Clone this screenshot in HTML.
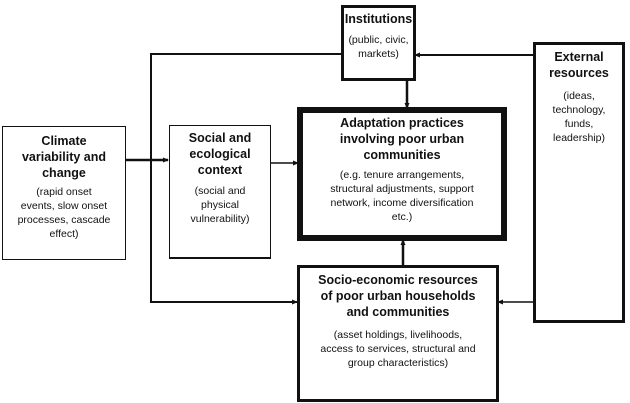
<!DOCTYPE html>
<html><head><style>
body{margin:0;width:630px;height:403px;background:#fff;overflow:hidden;position:relative;font-family:"Liberation Sans","DejaVu Sans",sans-serif;color:#111}
.b{position:absolute;box-sizing:border-box;border:1.5px solid #111;text-align:center;background:#fff}
.t{font-weight:bold;font-size:12.5px;line-height:16px}
.s{font-size:10.5px;line-height:14px;margin-top:6px}
</style></head><body>
<svg width="630" height="403" style="position:absolute;left:0;top:0">
<defs><marker id="a" markerUnits="userSpaceOnUse" markerWidth="6" markerHeight="6" refX="5" refY="3" orient="auto"><path d="M0,0.5L6,3L0,5.5z" fill="#111"/></marker></defs>
<g stroke="#111" stroke-width="2" fill="none">
<polyline points="342,54 151,54 151,302 297,302" marker-end="url(#a)"/>
<line x1="125" y1="160" x2="168" y2="160" stroke-width="2.5" marker-end="url(#a)"/>
<line x1="270" y1="163" x2="298" y2="163" stroke-width="1.5" marker-end="url(#a)"/>
<line x1="407" y1="80" x2="407" y2="108" stroke-width="2.5" marker-end="url(#a)"/>
<line x1="403" y1="265" x2="403" y2="240" stroke-width="2.5" marker-end="url(#a)"/>
<line x1="533" y1="55" x2="415" y2="55" marker-end="url(#a)"/>
<line x1="533" y1="302" x2="498" y2="302" stroke-width="1.5" marker-end="url(#a)"/>
</g></svg>
<div class="b" style="left:2px;top:126px;width:124px;height:134px;padding-top:6px"><div class="t">Climate<br>variability and<br>change</div><div class="s" style="margin-top:4px">(rapid onset<br>events, slow onset<br>processes, cascade<br>effect)</div></div>
<div class="b" style="left:169px;top:125px;width:102px;height:134px;border-bottom-width:2.5px;padding-top:4px"><div class="t">Social and<br>ecological<br>context</div><div class="s">(social and<br>physical<br>vulnerability)</div></div>
<div class="b" style="left:341px;top:5px;width:75px;height:76px;border-width:3px;padding-top:3px"><div class="t">Institutions</div><div class="s">(public, civic,<br>markets)</div></div>
<div class="b" style="left:297px;top:107px;width:210px;height:134px;border-width:6px;padding-top:2px"><div class="t">Adaptation practices<br>involving poor urban<br>communities</div><div class="s" style="margin-top:5px">(e.g. tenure arrangements,<br>structural adjustments, support<br>network, income diversification<br>etc.)</div></div>
<div class="b" style="left:533px;top:42px;width:92px;height:281px;border-width:3px;padding-top:4px"><div class="t">External<br>resources</div><div class="s" style="margin-top:8px">(ideas,<br>technology,<br>funds,<br>leadership)</div></div>
<div class="b" style="left:297px;top:265px;width:202px;height:137px;border-width:3px;padding-top:4px"><div class="t">Socio-economic resources<br>of poor urban households<br>and communities</div><div class="s" style="margin-top:8px">(asset holdings, livelihoods,<br>access to services, structural and<br>group characteristics)</div></div>
</body></html>
